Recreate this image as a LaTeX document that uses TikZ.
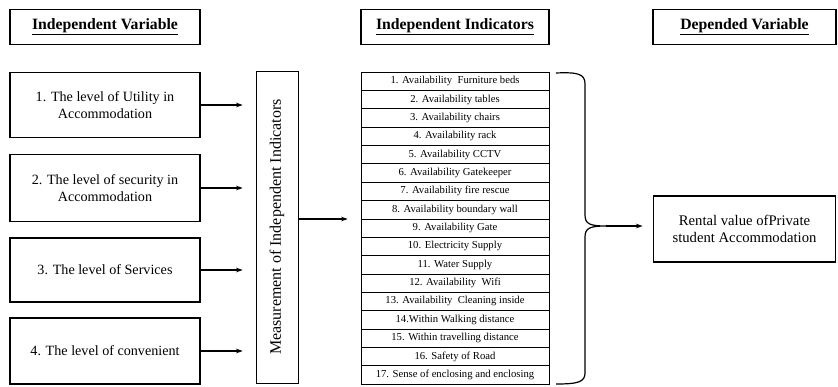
\documentclass[tikz,border=0pt]{standalone}
\usepackage{fontspec}
\setmainfont{Liberation Serif}
\usetikzlibrary{arrows.meta,calc}
\begin{document}
\begin{tikzpicture}[x=0.75pt,y=-0.75pt,
  hdr/.style={draw,line width=1.1pt,minimum height=26.25pt,inner sep=0pt,font=\bfseries\fontsize{11.8}{13}\selectfont},
  ivbox/.style={draw,line width=0.9pt,minimum width=142.5pt,align=center,inner sep=0pt,font=\fontsize{10.6}{13}\selectfont},
  rowbox/.style={draw,line width=0.45pt,minimum width=141pt,minimum height=13.76pt,inner sep=0pt,font=\fontsize{8}{9}\selectfont},
  conn/.style={line width=0.9pt,-{Stealth[length=5pt,width=3.5pt]}},
  thinbox/.style={draw,line width=0.5pt,inner sep=0pt}
]
\useasboundingbox (0,0) rectangle (838,386);
% headers
\node[hdr,minimum width=142.5pt] (h1) at (105,27) {\underline{Independent Variable}};
\node[hdr,minimum width=141pt] (h2) at (455,27) {\underline{Independent Indicators}};
\node[hdr,minimum width=137pt] (h3) at (744.5,27) {\underline{Depended Variable}};
% independent variables
\node[ivbox,minimum height=48.75pt] (b1) at (105,105) {1. The level of Utility in\\Accommodation};
\node[ivbox,minimum height=50.25pt] (b2) at (105,188) {2. The level of security in\\Accommodation};
\node[ivbox,minimum height=48pt] (b3) at (105,270) {3. The level of Services};
\node[ivbox,minimum height=49.5pt] (b4) at (105,351) {4. The level of convenient};
% measurement box
\node[thinbox,minimum width=31.5pt,minimum height=234pt] (meas) at (277,227)
  {\rotatebox{90}{\fontsize{12}{14}\selectfont Measurement of Independent Indicators}};
\foreach \b in {b1,b2,b3,b4}
  \draw[conn,shorten >=9.75pt] (\b.east) -- (\b.east -| meas.west);
% indicators table
\foreach \t [count=\i] in {1. Availability\ \ Furniture beds,2. Availability tables,3. Availability chairs,4. Availability rack,5. Availability CCTV,6. Availability Gatekeeper,7. Availability fire rescue,8. Availability boundary wall,9. Availability Gate,10. Electricity Supply,11. Water Supply,12. Availability\ \ Wifi,13. Availability\ \ Cleaning inside,14.Within Walking distance,15. Within travelling distance,16. Safety of Road,17. Sense of enclosing and enclosing}
  \node[rowbox] (r\i) at (455,{72+(\i-0.5)*18.353}) {\t};
\coordinate (mout) at ($(meas.east)+(0,-8)$);
\draw[conn,shorten >=9.75pt] (mout) -- (mout -| r1.west);
% brace
\coordinate (tip) at (606,226);
\draw[line width=0.9pt] (556,73) .. controls (578,72) and (585,74) .. (585,84)
  -- (585,215) .. controls (585,224) and (590,226) .. (tip)
  .. controls (590,226) and (585,228) .. (585,237)
  -- (585,373) .. controls (585,382) and (578,384) .. (556,384);
% dependent variable
\node[ivbox,minimum width=137pt,minimum height=49.5pt,font=\fontsize{11}{13}\selectfont] (dep) at (744.5,229) {Rental value ofPrivate\\student Accommodation};
\draw[conn,shorten >=7.5pt] (tip) -- (tip -| dep.west);
\end{tikzpicture}
\end{document}
